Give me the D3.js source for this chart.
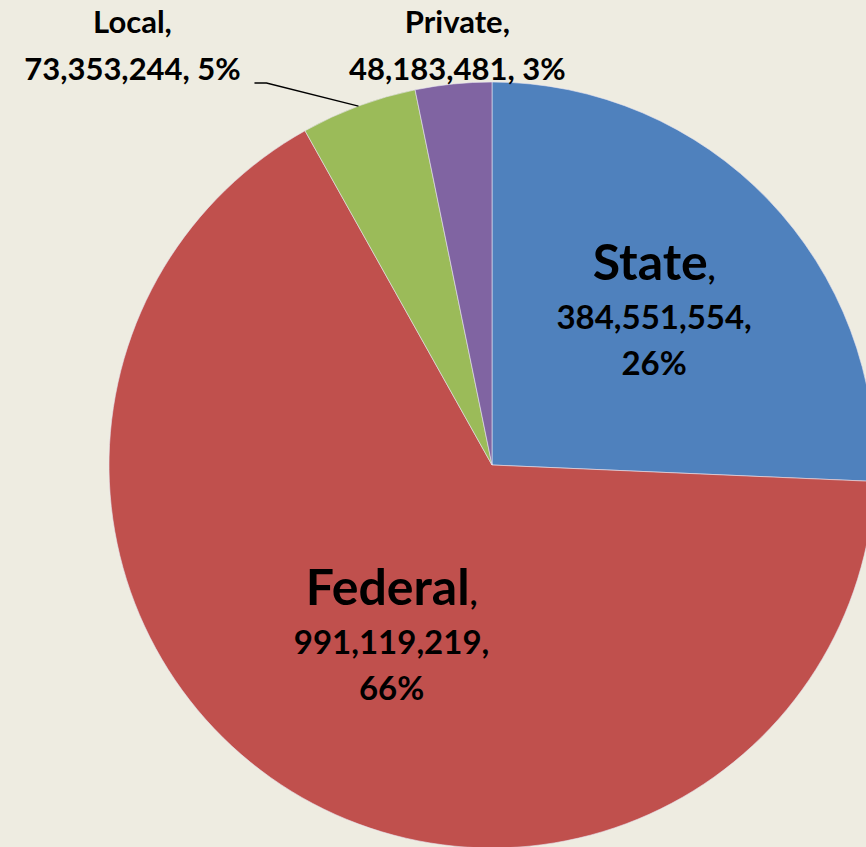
<!DOCTYPE html>
<html>
<head>
<meta charset="utf-8">
<script src="https://cdn.jsdelivr.net/npm/d3@7"></script>
<style>
  html, body { margin: 0; padding: 0; background: #EEECE1; }
  svg { display: block; }
  text { font-family: Lato, "Open Sans", sans-serif; font-weight: bold; fill: #000; }
</style>
</head>
<body>
<svg id="chart"></svg>
<script>
// funding sources, clockwise from 12 o'clock
const categories = ['State', 'Federal', 'Local', 'Private'];
const values = [384551554, 991119219, 73353244, 48183481];
const percents = ['26%', '66%', '5%', '3%'];
const colors = ['#4F81BD', '#C0504D', '#9BBB59', '#8064A2'];

const width = 866, height = 847;
const cx = 492, cy = 465, radius = 383;

const svg = d3.select('#chart')
    .attr('width', width)
    .attr('height', height);

svg.append('rect')
    .attr('width', width)
    .attr('height', height)
    .attr('fill', '#EEECE1');

const g = svg.append('g')
    .attr('transform', `translate(${cx},${cy})`);

const data = categories.map((c, i) => ({ name: c, value: values[i], pct: percents[i], color: colors[i] }));

const pie = d3.pie().sort(null).value(d => d.value);
const arcs = pie(data);
const arc = d3.arc().innerRadius(0).outerRadius(radius);

g.selectAll('path.slice')
    .data(arcs)
    .join('path')
    .attr('class', 'slice')
    .attr('d', arc)
    .attr('fill', d => d.data.color)
    .attr('stroke', '#e8e4f0')
    .attr('stroke-width', 0.6);

const fmt = d3.format(',');
const mid = d => (d.startAngle + d.endAngle) / 2;
const polar = (a, r) => [r * Math.sin(a), -r * Math.cos(a)];

// big slices: labels inside
const inside = arcs.filter(d => d.endAngle - d.startAngle > 1);
const inLabels = g.selectAll('text.inside')
    .data(inside)
    .join('text')
    .attr('class', 'inside')
    .attr('text-anchor', 'middle')
    .attr('transform', d => {
        const [x, y] = polar(mid(d), radius * 0.55);
        return `translate(${x + 10},${y + 10})`;
    });

inLabels.each(function(d) {
    const t = d3.select(this);
    const big = t.append('tspan').attr('x', 0).attr('y', -49);
    big.append('tspan').attr('font-size', 50).text(d.data.name);
    big.append('tspan').attr('font-size', 33).text(',');
    t.append('tspan').attr('x', 0).attr('y', 0).attr('font-size', 33).text(fmt(d.data.value) + ',');
    t.append('tspan').attr('x', 0).attr('y', 46).attr('font-size', 33).text(d.data.pct);
});

// small slices: labels outside, above the pie
const outside = arcs.filter(d => d.endAngle - d.startAngle <= 1);
outside.forEach(d => {
    const [ex, ey] = polar(mid(d), radius);
    const isLocal = d.data.name === 'Local';
    const lx = isLocal ? ex - 226 : ex + 4;
    const ly = -radius - 2;
    const t = g.append('text')
        .attr('text-anchor', 'middle')
        .attr('font-size', 31);
    t.append('tspan').attr('x', lx).attr('y', ly - 47).text(d.data.name + ',');
    t.append('tspan').attr('x', lx).attr('y', ly).text(fmt(d.data.value) + ', ' + d.data.pct);
    if (isLocal) {
        g.append('polyline')
            .attr('points', [[lx + 122, ly + 3], [lx + 134, ly + 3], [ex, ey]].map(p => p.join(',')).join(' '))
            .attr('fill', 'none')
            .attr('stroke', '#000')
            .attr('stroke-width', 1.3);
    }
});
</script>
</body>
</html>
